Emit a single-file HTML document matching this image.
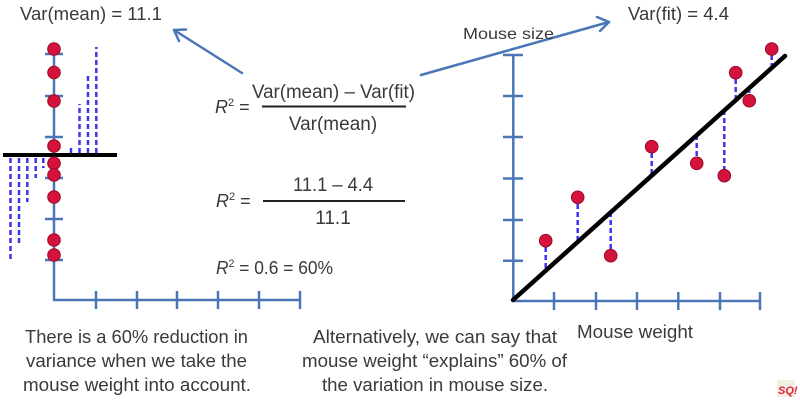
<!DOCTYPE html>
<html><head><meta charset="utf-8"><style>
html,body{margin:0;padding:0;background:#fff;}
svg{display:block;}
text{font-family:"Liberation Sans",sans-serif;fill:#3a3a3a;}
</style></head><body>
<svg width="800" height="403" viewBox="0 0 800 403" xmlns="http://www.w3.org/2000/svg">
<rect width="800" height="403" fill="#fff"/>
<!-- Left panel axes -->
<g stroke="#4a76b8" stroke-width="2.5" fill="none">
<line x1="54" y1="54" x2="54" y2="300"/>
<line x1="53" y1="300" x2="300" y2="300"/>
<line x1="45" y1="54" x2="63" y2="54"/>
<line x1="45" y1="96" x2="63" y2="96"/>
<line x1="45" y1="137" x2="63" y2="137"/>
<line x1="45" y1="178" x2="63" y2="178"/>
<line x1="45" y1="219" x2="63" y2="219"/>
<line x1="45" y1="260" x2="63" y2="260"/>
<line x1="96" y1="291" x2="96" y2="309"/>
<line x1="137" y1="291" x2="137" y2="309"/>
<line x1="177" y1="291" x2="177" y2="309"/>
<line x1="218" y1="291" x2="218" y2="309"/>
<line x1="259" y1="291" x2="259" y2="309"/>
<line x1="300" y1="291" x2="300" y2="309"/>
</g>
<!-- Left dashed residuals -->
<g stroke="#3b35ee" stroke-width="2.5" stroke-dasharray="5,3" fill="none">
<line x1="10.5" y1="158" x2="10.5" y2="260"/>
<line x1="19" y1="158" x2="19" y2="243"/>
<line x1="27.3" y1="158" x2="27.3" y2="202"/>
<line x1="35.7" y1="158" x2="35.7" y2="178"/>
<line x1="43.3" y1="158" x2="43.3" y2="168"/>
<line x1="71" y1="153" x2="71" y2="145"/>
<line x1="79.5" y1="153" x2="79.5" y2="104"/>
<line x1="88" y1="153" x2="88" y2="73"/>
<line x1="96.3" y1="153" x2="96.3" y2="47"/>
</g>
<line x1="3" y1="155" x2="117" y2="155" stroke="#000" stroke-width="4"/>
<!-- Left dots -->
<g fill="#d4123c" stroke="#9a0a28" stroke-width="1">
<circle cx="54" cy="49" r="6.3"/>
<circle cx="54" cy="72.5" r="6.3"/>
<circle cx="54" cy="101" r="6.3"/>
<circle cx="54" cy="146" r="6.3"/>
<circle cx="54" cy="163.3" r="6.3"/>
<circle cx="54" cy="175" r="6.3"/>
<circle cx="54" cy="197" r="6.3"/>
<circle cx="54" cy="240" r="6.3"/>
<circle cx="54" cy="255" r="6.3"/>
</g>

<!-- Right panel axes -->
<g stroke="#4a76b8" stroke-width="2.5" fill="none">
<line x1="513.3" y1="55" x2="513.3" y2="301"/>
<line x1="513" y1="301" x2="760" y2="301"/>
<line x1="503" y1="55" x2="523" y2="55"/>
<line x1="503" y1="96" x2="523" y2="96"/>
<line x1="503" y1="137" x2="523" y2="137"/>
<line x1="503" y1="178.5" x2="523" y2="178.5"/>
<line x1="503" y1="220" x2="523" y2="220"/>
<line x1="503" y1="260.7" x2="523" y2="260.7"/>
<line x1="554" y1="292" x2="554" y2="310"/>
<line x1="596" y1="292" x2="596" y2="310"/>
<line x1="637" y1="292" x2="637" y2="310"/>
<line x1="678.3" y1="292" x2="678.3" y2="310"/>
<line x1="720" y1="292" x2="720" y2="310"/>
<line x1="760" y1="292" x2="760" y2="310"/>
</g>
<!-- Right residuals -->
<g stroke="#3b35ee" stroke-width="2.5" stroke-dasharray="5,3" fill="none">
<line x1="545.7" y1="247" x2="545.7" y2="270"/>
<line x1="577.7" y1="204" x2="577.7" y2="242"/>
<line x1="610.7" y1="212" x2="610.7" y2="249"/>
<line x1="651.7" y1="153" x2="651.7" y2="175"/>
<line x1="696.7" y1="135" x2="696.7" y2="157"/>
<line x1="724.3" y1="110" x2="724.3" y2="169"/>
<line x1="735.7" y1="79" x2="735.7" y2="100"/>
<line x1="749.3" y1="88" x2="749.3" y2="94"/>
<line x1="771.7" y1="55" x2="771.7" y2="68"/>
</g>
<line x1="513" y1="300" x2="785" y2="56" stroke="#000" stroke-width="4.5" stroke-linecap="round"/>
<g fill="#d4123c" stroke="#9a0a28" stroke-width="1">
<circle cx="545.7" cy="240.7" r="6.3"/>
<circle cx="577.7" cy="197.3" r="6.3"/>
<circle cx="610.7" cy="255.7" r="6.3"/>
<circle cx="651.7" cy="146.7" r="6.3"/>
<circle cx="696.7" cy="163.3" r="6.3"/>
<circle cx="724.3" cy="175.7" r="6.3"/>
<circle cx="735.7" cy="72.7" r="6.3"/>
<circle cx="749.3" cy="100.7" r="6.3"/>
<circle cx="771.7" cy="49" r="6.3"/>
</g>

<!-- Arrows -->
<g stroke="#4a76b8" stroke-width="2.5" fill="none" stroke-linecap="round" stroke-linejoin="round">
<line x1="242" y1="73" x2="174" y2="30"/>
<polyline points="186,29.5 174,30 179,41"/>
<line x1="421" y1="75" x2="609" y2="22"/>
<polyline points="597,17 609,22 600,31"/>
</g>

<!-- Texts -->
<text x="20" y="20" font-size="18" textLength="142" lengthAdjust="spacingAndGlyphs">Var(mean) = 11.1</text>
<text x="628" y="20" font-size="18" textLength="101" lengthAdjust="spacingAndGlyphs">Var(fit) = 4.4</text>
<text x="463" y="39" font-size="16" textLength="91" lengthAdjust="spacingAndGlyphs">Mouse size</text>

<text x="215" y="113" font-size="18"><tspan font-style="italic">R</tspan><tspan font-size="11" dy="-7">2</tspan><tspan dy="7"> =</tspan></text>
<text x="252" y="98" font-size="19" textLength="163" lengthAdjust="spacingAndGlyphs">Var(mean) – Var(fit)</text>
<line x1="262" y1="106.5" x2="406" y2="106.5" stroke="#222" stroke-width="2"/>
<text x="333" y="130" font-size="19" text-anchor="middle">Var(mean)</text>

<text x="216" y="207" font-size="18"><tspan font-style="italic">R</tspan><tspan font-size="11" dy="-7">2</tspan><tspan dy="7"> =</tspan></text>
<text x="293" y="191" font-size="19" textLength="80" lengthAdjust="spacingAndGlyphs">11.1 – 4.4</text>
<line x1="263" y1="201" x2="405" y2="201" stroke="#222" stroke-width="2"/>
<text x="333" y="224" font-size="19" text-anchor="middle">11.1</text>

<text x="216" y="274" font-size="18" textLength="117" lengthAdjust="spacingAndGlyphs"><tspan font-style="italic">R</tspan><tspan font-size="11" dy="-7">2</tspan><tspan dy="7"> = 0.6 = 60%</tspan></text>

<text x="577" y="338" font-size="18" textLength="116" lengthAdjust="spacingAndGlyphs">Mouse weight</text>

<text x="25" y="343" font-size="18" textLength="223" lengthAdjust="spacingAndGlyphs">There is a 60% reduction in</text>
<text x="26" y="367" font-size="18" textLength="221" lengthAdjust="spacingAndGlyphs">variance when we take the</text>
<text x="23" y="391" font-size="18" textLength="228" lengthAdjust="spacingAndGlyphs">mouse weight into account.</text>

<text x="313" y="343" font-size="18" textLength="244" lengthAdjust="spacingAndGlyphs">Alternatively, we can say that</text>
<text x="302" y="367" font-size="18" textLength="265" lengthAdjust="spacingAndGlyphs">mouse weight “explains” 60% of</text>
<text x="322" y="391" font-size="18" textLength="226" lengthAdjust="spacingAndGlyphs">the variation in mouse size.</text>

<!-- logo -->
<rect x="777" y="380" width="18" height="17" fill="#f3efe2"/>
<text x="778" y="394" font-size="11" font-weight="bold" font-style="italic" style="fill:#e0203a">SQ!</text>
</svg>
</body></html>
